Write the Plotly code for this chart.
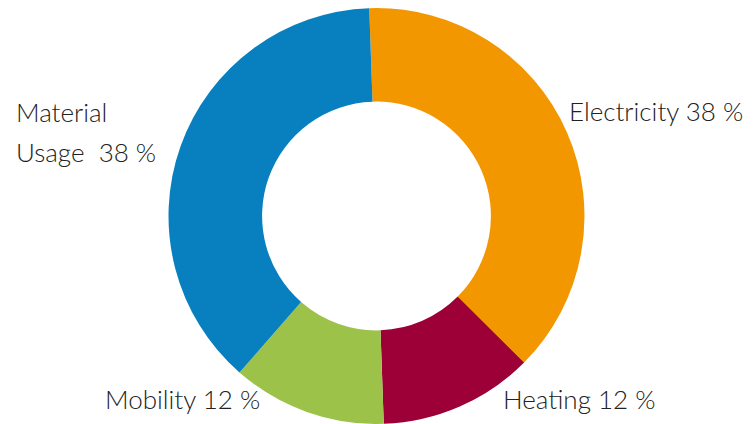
import plotly.graph_objects as go

categories = ["Electricity", "Heating", "Mobility", "Material Usage"]
values = [38, 12, 12, 38]
colors = ["#F39700", "#9C0037", "#9CC24A", "#0880BF"]

W, H = 753, 424
MT = 8

fig = go.Figure(go.Pie(
    labels=categories,
    values=values,
    hole=0.55,
    sort=False,
    direction="clockwise",
    rotation=-2,
    marker=dict(colors=colors, line=dict(width=0)),
    textinfo="none",
    hoverinfo="label+percent",
    showlegend=False,
))

font = dict(family="Lato, 'Open Sans', sans-serif", size=26, color="#222222", weight=300)

def px(x):
    return x / W

def py(y):
    return (H - y) / (H - MT)

labels = [
    ("Material", 14, 112),
    ("Usage\u00a0\u00a038\u00a0%", 14, 152),
    ("Electricity 38\u00a0%", 567, 111),
    ("Mobility 12\u00a0%", 103, 399),
    ("Heating 12\u00a0%", 501, 399),
]

annotations = [
    dict(text=t, x=px(x), y=py(y), xref="paper", yref="paper",
         xanchor="left", yanchor="middle", showarrow=False, font=font)
    for t, x, y in labels
]

fig.update_layout(
    width=W, height=H,
    margin=dict(l=0, r=0, t=MT, b=0),
    paper_bgcolor="white",
    plot_bgcolor="white",
    annotations=annotations,
)

fig.write_html("out.html")
